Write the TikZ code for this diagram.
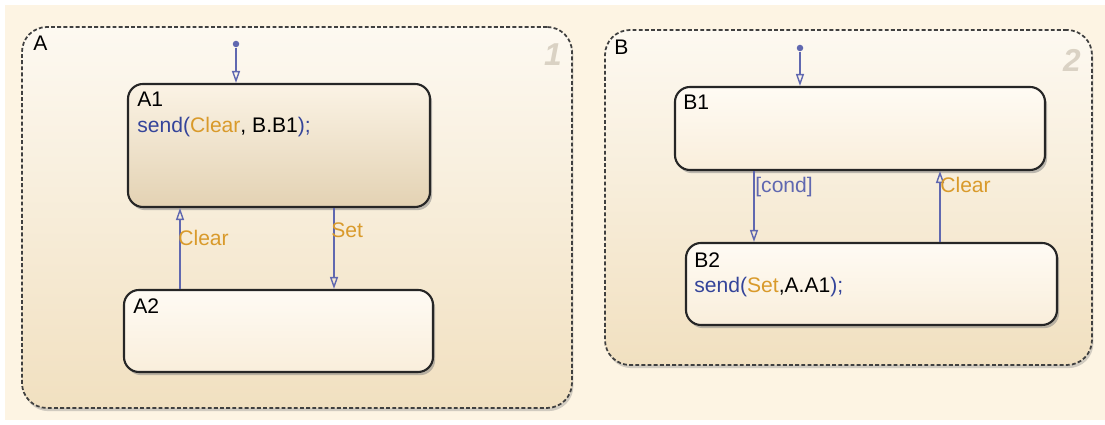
\documentclass[tikz,border=0pt]{standalone}
\usepackage{fontspec}
\setmainfont{Liberation Sans}
\usetikzlibrary{arrows.meta,shadows}
\definecolor{paper}{HTML}{FDF4E3}
\definecolor{chartTop}{HTML}{FDF9F1}
\definecolor{chartBot}{HTML}{F1E0C0}
\definecolor{stTop}{HTML}{FFFBF4}
\definecolor{stBot}{HTML}{F9EEDB}
\definecolor{actTop}{HTML}{FBF3E5}
\definecolor{actBot}{HTML}{E3D2B3}
\definecolor{evorange}{HTML}{D99A2B}
\definecolor{fnblue}{HTML}{34449A}
\definecolor{transblue}{HTML}{6068B0}
\definecolor{numgray}{HTML}{DAD2C4}
\tikzset{
  chart/.style={draw=black!75, dash pattern=on 2.2pt off 1.3pt, line width=1pt, rounded corners=0.5cm, top color=chartTop, bottom color=chartBot, drop shadow={opacity=0.35, shadow xshift=0.8pt, shadow yshift=-1.8pt}, inner sep=0},
  state/.style={draw=black!85, line width=1.2pt, rounded corners=0.3cm, top color=stTop, bottom color=stBot, drop shadow={opacity=0.5, shadow xshift=1.2pt, shadow yshift=-1.8pt}, inner sep=0},
  activestate/.style={state, top color=actTop, bottom color=actBot},
  trans/.style={draw=transblue, line width=0.8pt, -{Triangle[open,length=0.24cm,width=0.16cm]}},
  initdot/.style={circle, fill=transblue, inner sep=0, minimum size=0.13cm},
  chartlabel/.style={font=\fontsize{12}{14}\selectfont, anchor=north west, inner sep=0},
  chartnum/.style={font=\fontsize{18}{18}\selectfont\bfseries\itshape, text=numgray},
  statetext/.style={font=\fontsize{12}{14.5}\selectfont, align=left, anchor=north west, inner sep=0},
  evlabel/.style={font=\fontsize{12}{14}\selectfont, text=evorange, anchor=west, inner sep=0},
}
\begin{document}
\begin{tikzpicture}
\useasboundingbox (0,0) rectangle (22.1,8.5);
\fill[paper] (0.1,0.1) rectangle (22.1,8.4);
\node[chart, minimum width=11.0cm, minimum height=7.62cm] (chartA) at (5.94,4.15) {};
\node[chart, minimum width=9.74cm, minimum height=6.7cm] (chartB) at (16.97,4.55) {};
\node[chartlabel] (labA) at (0.66,7.78) {A};
\node[chartlabel] (labB) at (12.28,7.7) {B};
\node[chartnum] (numA) at (11.06,7.4) {1};
\node[chartnum] (numB) at (21.44,7.3) {2};
\node[activestate, minimum width=6.04cm, minimum height=2.46cm] (A1) at (5.58,5.59) {};
\node[state, minimum width=6.18cm, minimum height=1.64cm] (A2) at (5.57,1.88) {};
\node[state, minimum width=7.4cm, minimum height=1.66cm] (B1) at (17.2,5.93) {};
\node[state, minimum width=7.42cm, minimum height=1.64cm] (B2) at (17.43,2.82) {};
\node[statetext] (txtA1) at (2.74,6.66) {A1\\\textcolor{fnblue}{send(}\textcolor{evorange}{Clear}, B.B1\textcolor{fnblue}{);}};
\node[statetext] (txtA2) at (2.66,2.54) {A2};
\node[statetext] (txtB1) at (13.66,6.6) {B1};
\node[statetext] (txtB2) at (13.88,3.46) {B2\\\textcolor{fnblue}{send(}\textcolor{evorange}{Set},A.A1\textcolor{fnblue}{);}};
\node[initdot] (initA) at (4.72,7.62) {};
\node[initdot] (initB) at (16.0,7.54) {};
\draw[trans] (initA) -- (initA |- A1.north);
\draw[trans] (initB) -- (initB |- B1.north);
\draw[trans] ([xshift=-1.98cm]A1.south |- A2.north) -- ([xshift=-1.98cm]A1.south);
\draw[trans] ([xshift=1.1cm]A1.south) -- ([xshift=1.1cm]A1.south |- A2.north);
\draw[trans] ([xshift=-2.12cm]B1.south) -- ([xshift=-2.12cm]B1.south |- B2.north);
\draw[trans] ([xshift=1.6cm]B1.south |- B2.north) -- ([xshift=1.6cm]B1.south);
\node[evlabel] (evClearA) at (3.56,3.74) {Clear};
\node[evlabel] (evSet) at (6.62,3.9) {Set};
\node[evlabel, text=transblue] (evCond) at (15.1,4.76) {[cond]};
\node[evlabel] (evClearB) at (18.8,4.8) {Clear};
\end{tikzpicture}
\end{document}
